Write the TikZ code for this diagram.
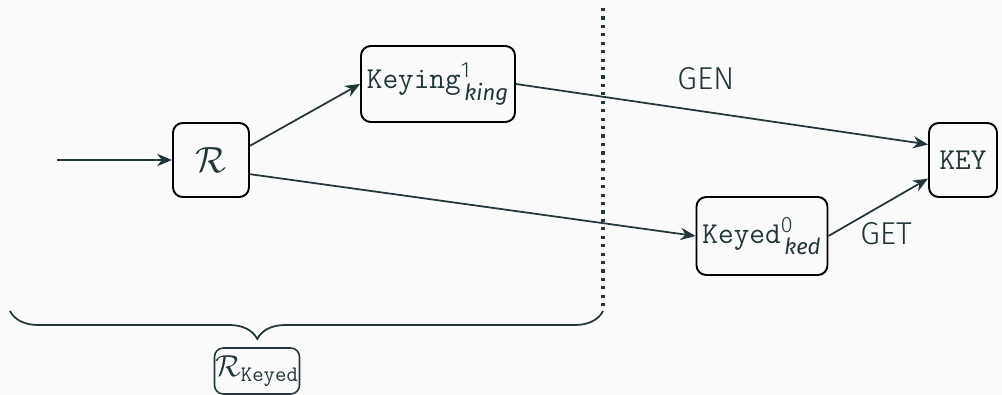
\documentclass[tikz,border=0pt]{standalone}
\usepackage{amsmath}
\usepackage{fontspec}
\setmainfont{Fira Sans}[UprightFont=* Light,ItalicFont=* Italic]
\usetikzlibrary{arrows.meta,decorations.pathreplacing}
\definecolor{darkteal}{HTML}{23373B}
\definecolor{paper}{HTML}{FAFAFA}
\tikzset{
  blk/.style={draw=black,line width=1.1pt,rounded corners=5.5pt,inner sep=0pt},
  flow/.style={->,line width=1pt,draw=darkteal},
}
\newcommand{\kw}[1]{{\fontsize{17.3}{20}\ttfamily #1}}

\begin{document}
\begin{tikzpicture}[x=0.02cm,y=-0.02cm,color=darkteal,
    font=\fontsize{18}{21}\selectfont,>={Stealth[length=8.5pt,width=7pt]}]
    \fill[paper] (0,0) rectangle (1002,395);
    \useasboundingbox (0,0) rectangle (1002,395);
    % boxes
    \node[blk,minimum width=1.52cm,minimum height=1.48cm] (r) at (211,160)
      {\fontsize{20}{24}\selectfont$\mathcal{R}$};
    \node[blk,minimum width=3.08cm,minimum height=1.52cm] (keying) at (438,84)
      {\kw{Keying}$^{\text{1}}_{\,\textit{king}}$};
    \node[blk,minimum width=2.62cm,minimum height=1.56cm] (keyed) at (762,236)
      {\kw{Keyed}$^{\text{0}}_{\,\textit{ked}}$};
    \node[blk,minimum width=1.36cm,minimum height=1.48cm] (key) at (963,160) {\kw{KEY}};
    \coordinate (in) at (57,160);
    % arrows
    \draw[flow] (in) -- (r.west);
    \foreach \a/\b in {r.20/keying.west,r.-20/keyed.west,keying.east/key.156,keyed.east/key.-152}
      {\draw[flow] (\a) -- (\b);}
    \node (gen) at (706,79) {GEN};
    \node (get) at (886,234) {GET};
    % split line and brace
    \coordinate (top) at (603,8);
    \coordinate (brl) at (10,311);
    \coordinate (brr) at (603,311);
    \draw[line width=1.8pt,dash pattern=on 1.8pt off 3pt] (top) -- (brr);
    \draw[line width=1pt,decorate,decoration={brace,mirror,amplitude=0.56cm,aspect=0.417}]
      (brl) -- (brr);
    \node[draw=darkteal,line width=0.9pt,rounded corners=5pt,minimum width=1.7cm,
      minimum height=0.92cm,inner sep=0pt] (rk) at (257,371) {$\mathcal{R}_{\mathtt{Keyed}}$};
\end{tikzpicture}
\end{document}
